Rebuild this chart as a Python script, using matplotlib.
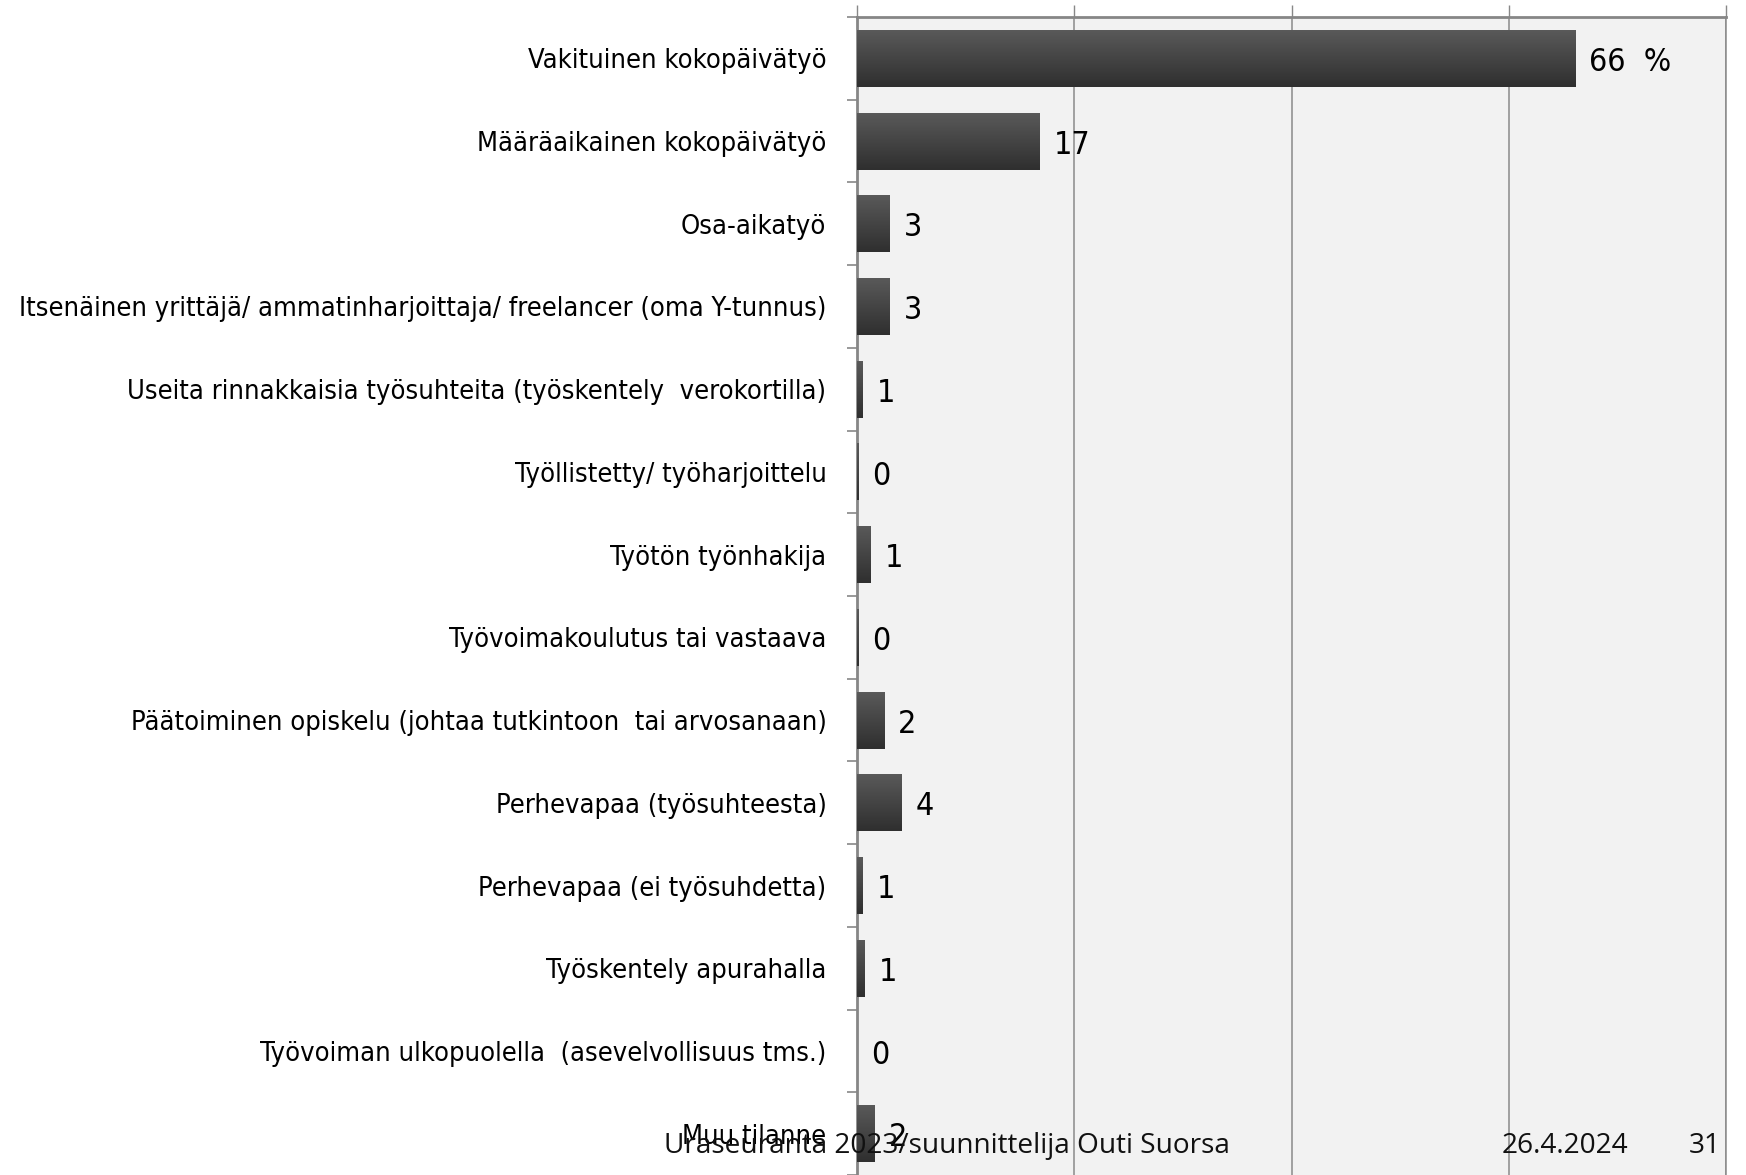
import matplotlib
matplotlib.use('Agg')
import matplotlib.pyplot as plt
import numpy as np
from matplotlib import font_manager

# data
categories = [
    'Vakituinen kokopäivätyö',
    'Määräaikainen kokopäivätyö',
    'Osa-aikatyö',
    'Itsenäinen yrittäjä/ ammatinharjoittaja/ freelancer (oma Y-tunnus)',
    'Useita rinnakkaisia työsuhteita (työskentely  verokortilla)',
    'Työllistetty/ työharjoittelu',
    'Työtön työnhakija',
    'Työvoimakoulutus tai vastaava',
    'Päätoiminen opiskelu (johtaa tutkintoon  tai arvosanaan)',
    'Perhevapaa (työsuhteesta)',
    'Perhevapaa (ei työsuhdetta)',
    'Työskentely apurahalla',
    'Työvoiman ulkopuolella  (asevelvollisuus tms.)',
    'Muu tilanne',
]
values = [66.1, 16.8, 3.0, 3.0, 0.5, 0.15, 1.25, 0.1, 2.5, 4.1, 0.5, 0.7, 0.0, 1.65]
value_labels = ['66  %', '17', '3', '3', '1', '0', '1', '0', '2', '4', '1', '1', '0', '2']
x_ticks = [0, 20, 40, 60, 80]

footer_left = 'Uraseuranta 2023/suunnittelija Outi Suorsa'
footer_date = '26.4.2024'
footer_page = '31'

# pick a narrow font if there is one
installed = {f.name for f in font_manager.fontManager.ttflist}
if 'Liberation Sans Narrow' in installed:
    narrow = dict(family='Liberation Sans Narrow')
    label_size, value_size = 23.5, 27
else:
    narrow = dict(family='DejaVu Sans', stretch='condensed')
    label_size, value_size = 19.5, 23
footer_family = 'Open Sans' if 'Open Sans' in installed else 'DejaVu Sans'

W, H = 1746, 1175
fig = plt.figure(figsize=(W / 100, H / 100), dpi=100)
ax = fig.add_axes([857 / W, 0, (1726 - 857) / W, (H - 17) / H])
ax.set_facecolor('#f2f2f2')

pos = np.arange(len(categories))
bar_h = 0.69
bars = ax.barh(pos, values, height=bar_h, color='#404040', zorder=2)

# vertical gradient in each bar, lighter on top
grad = np.linspace(0, 1, 64).reshape(-1, 1)
cmap = matplotlib.colors.LinearSegmentedColormap.from_list('bar', ['#5a5a5a', '#2f2f2f'])
for b, y, v in zip(bars, pos, values):
    if v <= 0:
        continue
    im = ax.imshow(grad, cmap=cmap, aspect='auto', origin='upper',
                   extent=(0, v, y + bar_h / 2, y - bar_h / 2), zorder=3)
    im.set_clip_path(b)

for y, v, lbl in zip(pos, values, value_labels):
    ax.annotate(lbl, xy=(v, y), xytext=(10, -3), textcoords='offset points',
                ha='left', va='center', fontsize=value_size, color='black', **narrow)

ax.set_xlim(x_ticks[0], x_ticks[-1])
ax.set_ylim(len(categories) - 0.5, -0.5)

ax.set_xticks(x_ticks)
ax.xaxis.set_ticks_position('top')
ax.tick_params(axis='x', direction='out', length=9, width=1, color='#888888',
               labeltop=False, labelbottom=False)
ax.grid(axis='x', color='#8a8a8a', lw=1.1, zorder=1)

ax.set_yticks(pos)
ax.set_yticklabels(categories, fontsize=label_size, color='black', **narrow)
ax.set_yticks(np.arange(-0.5, len(categories), 1), minor=True)
ax.tick_params(axis='y', which='major', length=0, pad=22)
ax.tick_params(axis='y', which='minor', length=7, width=1.2, color='#888888', direction='out')

for side in ['top', 'left']:
    ax.spines[side].set_color('#868686')
    ax.spines[side].set_linewidth(2)
ax.spines['right'].set_color('#8a8a8a')
ax.spines['right'].set_linewidth(1.1)
ax.spines['bottom'].set_visible(False)

# footer of the slide
fig.text(664 / W, 1 - 1153 / H, footer_left, ha='left', va='baseline',
         fontsize=20.2, family=footer_family, color='#111111')
fig.text(1502 / W, 1 - 1153 / H, footer_date, ha='left', va='baseline',
         fontsize=20.2, family=footer_family, color='#111111')
fig.text(1721 / W, 1 - 1153 / H, footer_page, ha='right', va='baseline',
         fontsize=20.2, family=footer_family, color='#111111')

fig.savefig('out.png', dpi=100)
